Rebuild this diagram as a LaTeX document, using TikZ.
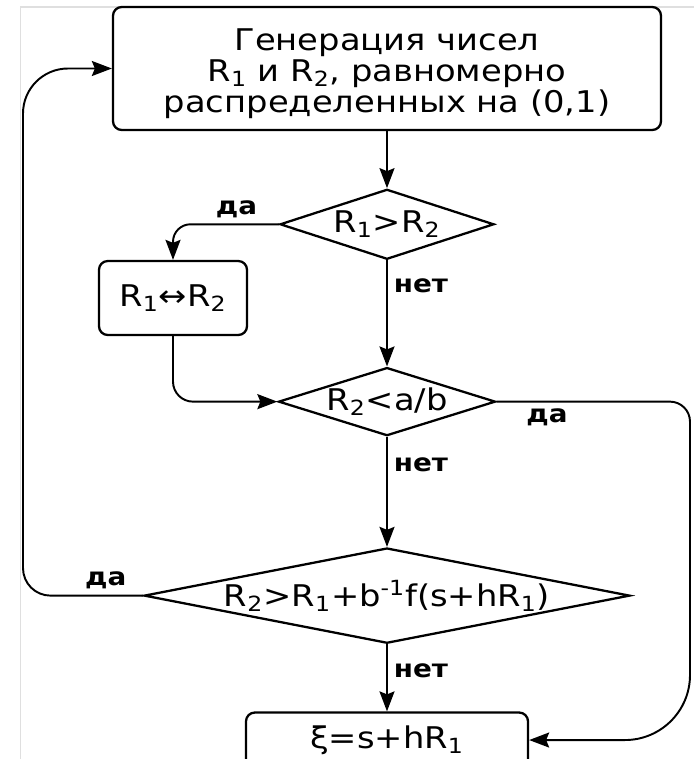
\documentclass[tikz,border=0pt]{standalone}
\usepackage{fontspec}
\setmainfont{DejaVu Sans}[FakeStretch=1.13]
\usetikzlibrary{arrows.meta, positioning, shapes.geometric}
\tikzset{
  procbox/.style  = {draw, line width=1.3pt, rounded corners=5pt, align=center,
                     font=\fontsize{17}{17.6}\selectfont, inner sep=0pt},
  decision/.style = {draw, diamond, line width=1.3pt, inner sep=0pt, aspect=#1,
                     font=\fontsize{17}{17.6}\selectfont},
  decision/.default = 3,
  answer/.style   = {font=\bfseries\fontsize{14}{16}\selectfont},
  flow/.style     = {-{Stealth[length=4mm, width=3mm, inset=0.6mm]}, line width=1.1pt},
  framegray/.style = {gray!25, line width=0.6pt},
}

\begin{document}
\begin{tikzpicture}
  \useasboundingbox (0,0) rectangle (13.88,-15.18);
  \draw[framegray] (0.41,-15.18) -- (0.41,-0.14) -- (13.88,-0.14);

  \node[procbox, minimum width=10.96cm, minimum height=2.46cm] (gen) at (7.74,-1.37)
    {\rule{0pt}{18.5pt}Генерация чисел\\R\textsubscript{1} и R\textsubscript{2}, равномерно\\распределенных на (0,1)};
  \node[decision=3, minimum width=4.28cm, minimum height=1.4cm, below=1.14cm of gen] (cmp1)
    {R\textsubscript{1}>R\textsubscript{2}};
  \node[procbox, minimum width=2.96cm, minimum height=1.48cm] (swap) at (3.46,-5.96)
    {R\textsubscript{1}↔R\textsubscript{2}};
  \node[decision=3, minimum width=4.34cm, minimum height=1.36cm, below=2.12cm of cmp1] (cmp2)
    {R\textsubscript{2}<a/b};
  \node[decision=5.1, minimum width=9.48cm, minimum height=1.82cm, below=2.2cm of cmp2] (cmp3)
    {R\textsubscript{2}>R\textsubscript{1}+b\textsuperscript{-1}f(s+hR\textsubscript{1})};
  \node[procbox, minimum width=5.64cm, minimum height=1.1cm, below=1.34cm of cmp3] (result)
    {ξ=s+hR\textsubscript{1}};

  \coordinate (rside) at (13.8,0);
  \coordinate (lside) at (0.46,0);

  \draw[flow] (gen) -- (cmp1);
  \draw[flow, rounded corners=0.35cm] (cmp1.west) -| node[answer, above, pos=0.2] {да} (swap.north);
  \draw[flow] (cmp1) -- node[answer, right, pos=0.24] {нет} (cmp2);
  \draw[flow, rounded corners=0.4cm] (swap) |- (cmp2.west);
  \draw[flow] (cmp2) -- node[answer, right, pos=0.25] {нет} (cmp3);
  \draw[flow] (cmp3) -- node[answer, right, pos=0.39] {нет} (result);
  \draw[flow] (cmp2.east) [rounded corners=0.4cm] -- node[answer, below, pos=0.26] {да} (cmp2.east -| rside)
    [rounded corners=1.3cm] -- (result.east -| rside) -- (result.east);
  \draw[flow] (cmp3.west) [rounded corners=0.55cm] -- node[answer, above, pos=0.31] {да} (cmp3.west -| lside)
    [rounded corners=0.9cm] -- (gen.west -| lside) -- (gen.west);
\end{tikzpicture}
\end{document}
